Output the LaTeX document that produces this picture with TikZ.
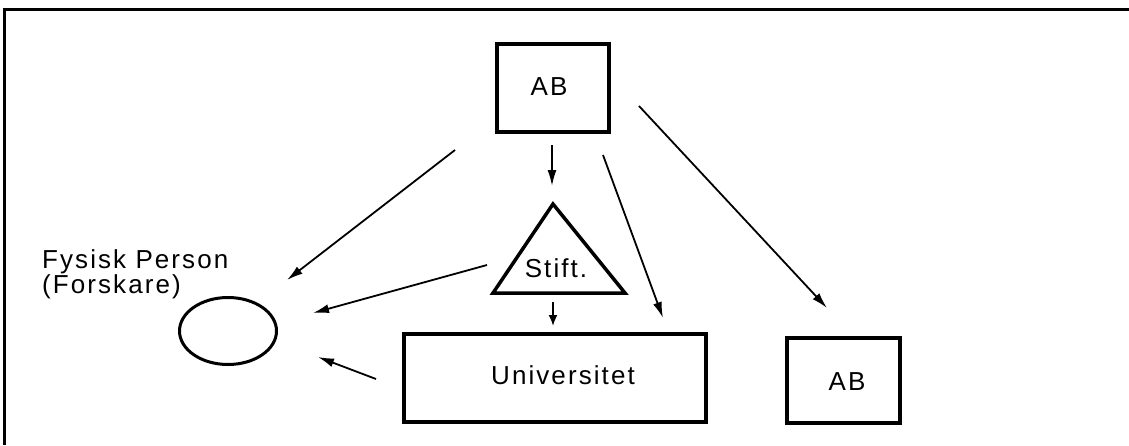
\documentclass[tikz,border=0pt]{standalone}
\usepackage{fontspec}
\setmainfont{Liberation Sans}[LetterSpace=8]
\usetikzlibrary{shapes.geometric,arrows.meta}
\begin{document}
\begin{tikzpicture}[x=1pt,y=-1pt,
  box/.style={draw,line width=4pt,inner sep=0pt},
  lbl/.style={inner sep=0pt,font=\fontsize{26}{26}\selectfont},
  arr/.style={line width=1.8pt,-{Latex[length=16pt,width=9pt]}}]
\useasboundingbox (0,0) rectangle (1129,445);
\fill[white] (0,0) rectangle (1129,445);
% frame
\draw[line width=3pt] (4,445) -- (4,9) -- (1129,9);
% nodes
\node[box,minimum width=112pt,minimum height=88pt] (abtop) at (553,88) {};
\node[lbl] (abtoptext) at (549,87) {AB};
\node[box,minimum width=302pt,minimum height=88pt] (uni) at (555,378) {};
\node[lbl] (unitext) at (563,375) {Universitet};
\node[box,minimum width=113pt,minimum height=85pt] (abright) at (843,380) {};
\node[lbl] (abrighttext) at (847,382) {AB};
\node[draw,ellipse,line width=3pt,minimum width=97pt,minimum height=67pt] (person) at (228,331) {};
\node[lbl,anchor=base west] (persontext1) at (42,268) {Fysisk Person};
\node[lbl,anchor=base west] (persontext2) at (42,293) {(Forskare)};
% triangle
\coordinate (tA) at (553,204);
\coordinate (tL) at (493,293);
\coordinate (tR) at (625,293);
\draw[line width=3.5pt,line join=miter] (tA) -- (tR) -- (tL) -- cycle;
\node[lbl] (stift) at (556,268) {Stift.};
% arrow end points
\coordinate (a1s) at (455,150); \coordinate (a1e) at (287,280);
\coordinate (a2s) at (487,265); \coordinate (a2e) at (313,313);
\coordinate (a3s) at (376,379); \coordinate (a3e) at (318,357);
\coordinate (a4s) at (552,145); \coordinate (a4e) at (552,186);
\coordinate (a5s) at (553,302); \coordinate (a5e) at (553,326);
\coordinate (a6s) at (603,155); \coordinate (a6e) at (663,318);
\coordinate (a7s) at (639,106); \coordinate (a7e) at (827,308);
\draw[arr] (a1s) -- (a1e);
\draw[arr] (a2s) -- (a2e);
\draw[arr] (a3s) -- (a3e);
\draw[arr] (a4s) -- (a4e);
\draw[arr,-{Latex[length=11pt,width=9pt]}] (a5s) -- (a5e);
\draw[arr] (a6s) -- (a6e);
\draw[arr] (a7s) -- (a7e);
\end{tikzpicture}
\end{document}
